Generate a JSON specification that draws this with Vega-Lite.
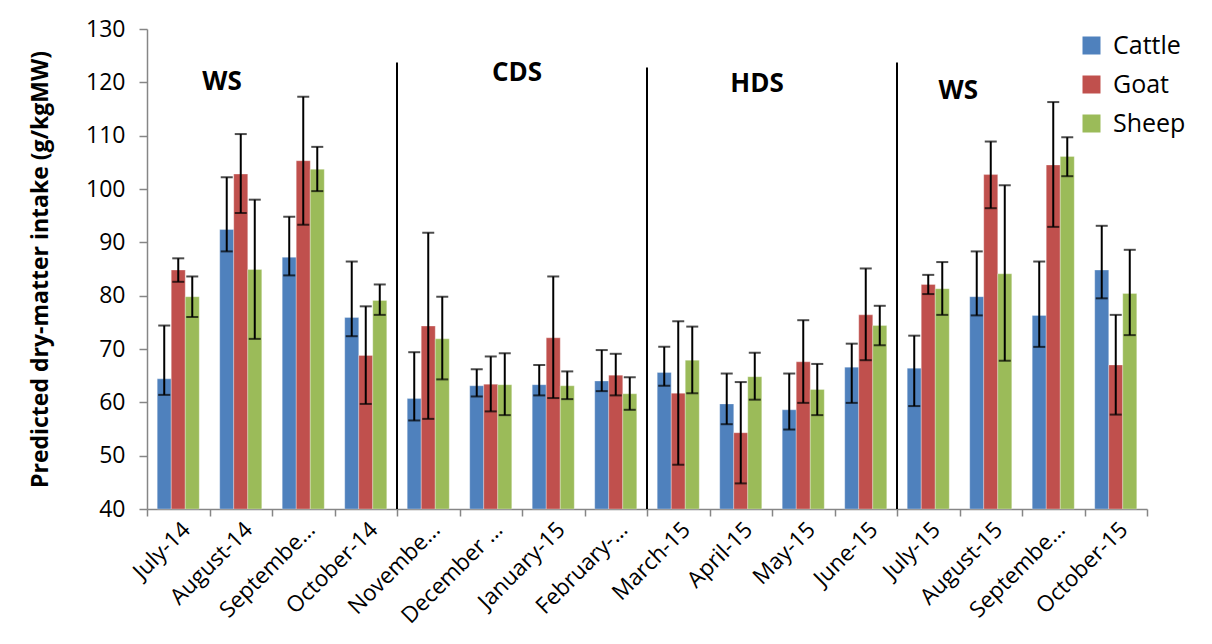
{
  "$schema": "https://vega.github.io/schema/vega-lite/v6.json",
  "width": 1000,
  "height": 480,
  "autosize": {"type": "none"},
  "padding": {"left": 147, "top": 29, "right": 65, "bottom": 135},
  "background": "white",
  "config": {"font": "Open Sans", "view": {"stroke": null}},
  "datasets": {
    "bars": [
      {"month": "July-14", "animal": "Cattle", "value": 64.4, "hi": 74.4, "lo": 61.4},
      {"month": "July-14", "animal": "Goat", "value": 84.8, "hi": 87.0, "lo": 82.6},
      {"month": "July-14", "animal": "Sheep", "value": 79.8, "hi": 83.6, "lo": 76.0},
      {"month": "August-14", "animal": "Cattle", "value": 92.4, "hi": 102.2, "lo": 88.3},
      {"month": "August-14", "animal": "Goat", "value": 102.8, "hi": 110.3, "lo": 95.5},
      {"month": "August-14", "animal": "Sheep", "value": 84.9, "hi": 98.0, "lo": 71.9},
      {"month": "September-14", "animal": "Cattle", "value": 87.2, "hi": 94.8, "lo": 83.8},
      {"month": "September-14", "animal": "Goat", "value": 105.3, "hi": 117.3, "lo": 93.3},
      {"month": "September-14", "animal": "Sheep", "value": 103.7, "hi": 107.9, "lo": 99.6},
      {"month": "October-14", "animal": "Cattle", "value": 75.9, "hi": 86.4, "lo": 72.4},
      {"month": "October-14", "animal": "Goat", "value": 68.8, "hi": 78.0, "lo": 59.7},
      {"month": "October-14", "animal": "Sheep", "value": 79.1, "hi": 82.1, "lo": 76.4},
      {"month": "November-14", "animal": "Cattle", "value": 60.7, "hi": 69.4, "lo": 56.6},
      {"month": "November-14", "animal": "Goat", "value": 74.3, "hi": 91.8, "lo": 56.9},
      {"month": "November-14", "animal": "Sheep", "value": 71.9, "hi": 79.8, "lo": 64.3},
      {"month": "December-14", "animal": "Cattle", "value": 63.1, "hi": 66.2, "lo": 61.1},
      {"month": "December-14", "animal": "Goat", "value": 63.4, "hi": 68.6, "lo": 58.3},
      {"month": "December-14", "animal": "Sheep", "value": 63.3, "hi": 69.2, "lo": 57.6},
      {"month": "January-15", "animal": "Cattle", "value": 63.3, "hi": 67.0, "lo": 61.3},
      {"month": "January-15", "animal": "Goat", "value": 72.1, "hi": 83.6, "lo": 60.8},
      {"month": "January-15", "animal": "Sheep", "value": 63.1, "hi": 65.8, "lo": 60.6},
      {"month": "February-15", "animal": "Cattle", "value": 64.0, "hi": 69.8, "lo": 62.1},
      {"month": "February-15", "animal": "Goat", "value": 65.1, "hi": 69.1, "lo": 61.3},
      {"month": "February-15", "animal": "Sheep", "value": 61.6, "hi": 64.7, "lo": 58.6},
      {"month": "March-15", "animal": "Cattle", "value": 65.6, "hi": 70.4, "lo": 63.1},
      {"month": "March-15", "animal": "Goat", "value": 61.7, "hi": 75.2, "lo": 48.3},
      {"month": "March-15", "animal": "Sheep", "value": 67.9, "hi": 74.2, "lo": 61.7},
      {"month": "April-15", "animal": "Cattle", "value": 59.7, "hi": 65.4, "lo": 55.9},
      {"month": "April-15", "animal": "Goat", "value": 54.3, "hi": 63.8, "lo": 44.8},
      {"month": "April-15", "animal": "Sheep", "value": 64.8, "hi": 69.3, "lo": 60.5},
      {"month": "May-15", "animal": "Cattle", "value": 58.6, "hi": 65.4, "lo": 54.9},
      {"month": "May-15", "animal": "Goat", "value": 67.6, "hi": 75.4, "lo": 59.9},
      {"month": "May-15", "animal": "Sheep", "value": 62.4, "hi": 67.2, "lo": 57.6},
      {"month": "June-15", "animal": "Cattle", "value": 66.6, "hi": 71.0, "lo": 59.9},
      {"month": "June-15", "animal": "Goat", "value": 76.4, "hi": 85.1, "lo": 67.9},
      {"month": "June-15", "animal": "Sheep", "value": 74.4, "hi": 78.1, "lo": 70.7},
      {"month": "July-15", "animal": "Cattle", "value": 66.4, "hi": 72.5, "lo": 59.3},
      {"month": "July-15", "animal": "Goat", "value": 82.1, "hi": 83.9, "lo": 80.3},
      {"month": "July-15", "animal": "Sheep", "value": 81.3, "hi": 86.3, "lo": 76.4},
      {"month": "August-15", "animal": "Cattle", "value": 79.8, "hi": 88.3, "lo": 76.3},
      {"month": "August-15", "animal": "Goat", "value": 102.7, "hi": 108.9, "lo": 96.4},
      {"month": "August-15", "animal": "Sheep", "value": 84.1, "hi": 100.7, "lo": 67.8},
      {"month": "September-15", "animal": "Cattle", "value": 76.3, "hi": 86.4, "lo": 70.4},
      {"month": "September-15", "animal": "Goat", "value": 104.5, "hi": 116.3, "lo": 92.9},
      {"month": "September-15", "animal": "Sheep", "value": 106.1, "hi": 109.7, "lo": 102.4},
      {"month": "October-15", "animal": "Cattle", "value": 84.8, "hi": 93.1, "lo": 79.5},
      {"month": "October-15", "animal": "Goat", "value": 67.0, "hi": 76.4, "lo": 57.7},
      {"month": "October-15", "animal": "Sheep", "value": 80.4, "hi": 88.6, "lo": 72.6}
    ],
    "seps": [
      {"month": "November-14", "top": 123.7},
      {"month": "March-15", "top": 122.8},
      {"month": "July-15", "top": 123.7}
    ],
    "seasons": [
      {"label": "WS", "month": "August-14", "pos": 120.1},
      {"label": "CDS", "month": "December-14", "pos": 121.8},
      {"label": "HDS", "month": "April-15", "pos": 119.6},
      {"label": "WS2", "month": "July-15", "pos": 118.3}
    ]
  },
  "encoding": {
    "x": {
      "field": "month",
      "type": "nominal",
      "scale": {
        "domain": ["July-14", "August-14", "September-14", "October-14", "November-14", "December-14", "January-15", "February-15", "March-15", "April-15", "May-15", "June-15", "July-15", "August-15", "September-15", "October-15"],
        "paddingInner": 0,
        "paddingOuter": 0
      },
      "axis": {
        "title": null,
        "labelAngle": -45,
        "labelFontSize": 22.5,
        "labelColor": "black",
        "labelPadding": 2,
        "tickBand": "extent",
        "tickSize": 7,
        "tickColor": "#868686",
        "tickWidth": 1.5,
        "domainColor": "#868686",
        "domainWidth": 1.5,
        "labelExpr": "(datum.value == 'September-14' || datum.value == 'September-15') ? 'Septembe…' : datum.value == 'November-14' ? 'Novembe…' : datum.value == 'December-14' ? 'December …' : datum.value == 'February-15' ? 'February-…' : datum.value"
      }
    }
  },
  "layer": [
    {
      "data": {"name": "bars"},
      "mark": {"type": "bar", "stroke": "white", "strokeWidth": 0.5, "strokeOpacity": 0.6},
      "encoding": {
        "xOffset": {"field": "animal", "type": "nominal", "scale": {"paddingInner": 0, "paddingOuter": 0.73}},
        "y": {
          "field": "value",
          "type": "quantitative",
          "scale": {"domain": [40, 130], "zero": false, "nice": false},
          "axis": {
            "title": "Predicted dry-matter intake (g/kgMW)",
            "titleFontSize": 23,
            "titleFontWeight": "bold",
            "titleColor": "black",
            "titlePadding": 33,
            "values": [40, 50, 60, 70, 80, 90, 100, 110, 120, 130],
            "grid": false,
            "labelFontSize": 23,
            "labelColor": "black",
            "labelPadding": 14,
            "tickSize": 8,
            "tickColor": "#868686",
            "tickWidth": 1.5,
            "domainColor": "#868686",
            "domainWidth": 1.5
          }
        },
        "y2": {"datum": 40},
        "color": {
          "field": "animal",
          "type": "nominal",
          "scale": {"domain": ["Cattle", "Goat", "Sheep"], "range": ["#4F81BD", "#C0504D", "#9BBB59"]},
          "legend": {
            "title": null,
            "orient": "none",
            "legendX": 932,
            "legendY": 4,
            "symbolType": "square",
            "symbolSize": 324,
            "symbolStrokeWidth": 0,
            "labelFontSize": 25,
            "labelColor": "black",
            "labelOffset": 9,
            "rowPadding": 13
          }
        }
      }
    },
    {
      "data": {"name": "bars"},
      "mark": {"type": "rule", "color": "black", "strokeWidth": 2},
      "encoding": {
        "xOffset": {"field": "animal", "type": "nominal"},
        "y": {"field": "lo", "type": "quantitative"},
        "y2": {"field": "hi"}
      }
    },
    {
      "data": {"name": "bars"},
      "mark": {"type": "tick", "color": "black", "thickness": 2, "size": 12, "orient": "horizontal"},
      "encoding": {
        "xOffset": {"field": "animal", "type": "nominal"},
        "y": {"field": "lo", "type": "quantitative"}
      }
    },
    {
      "data": {"name": "bars"},
      "mark": {"type": "tick", "color": "black", "thickness": 2, "size": 12, "orient": "horizontal"},
      "encoding": {
        "xOffset": {"field": "animal", "type": "nominal"},
        "y": {"field": "hi", "type": "quantitative"}
      }
    },
    {
      "data": {"name": "seps"},
      "mark": {"type": "rule", "color": "black", "strokeWidth": 2},
      "encoding": {
        "x": {"field": "month", "type": "nominal", "bandPosition": 0},
        "y": {"field": "top", "type": "quantitative"},
        "y2": {"datum": 40}
      }
    },
    {
      "data": {"name": "seasons"},
      "transform": [{"filter": "datum.label == 'WS'"}],
      "mark": {"type": "text", "fontSize": 26, "fontWeight": "bold", "color": "black", "baseline": "middle"},
      "encoding": {
        "x": {"field": "month", "type": "nominal", "bandPosition": 0.2},
        "y": {"field": "pos", "type": "quantitative"},
        "text": {"value": "WS"}
      }
    },
    {
      "data": {"name": "seasons"},
      "transform": [{"filter": "datum.label == 'CDS'"}],
      "mark": {"type": "text", "fontSize": 26, "fontWeight": "bold", "color": "black", "baseline": "middle"},
      "encoding": {
        "x": {"field": "month", "type": "nominal", "bandPosition": 0.92},
        "y": {"field": "pos", "type": "quantitative"},
        "text": {"value": "CDS"}
      }
    },
    {
      "data": {"name": "seasons"},
      "transform": [{"filter": "datum.label == 'HDS'"}],
      "mark": {"type": "text", "fontSize": 26, "fontWeight": "bold", "color": "black", "baseline": "middle"},
      "encoding": {
        "x": {"field": "month", "type": "nominal", "bandPosition": 0.76},
        "y": {"field": "pos", "type": "quantitative"},
        "text": {"value": "HDS"}
      }
    },
    {
      "data": {"name": "seasons"},
      "transform": [{"filter": "datum.label == 'WS2'"}],
      "mark": {"type": "text", "fontSize": 26, "fontWeight": "bold", "color": "black", "baseline": "middle"},
      "encoding": {
        "x": {"field": "month", "type": "nominal", "bandPosition": 0.98},
        "y": {"field": "pos", "type": "quantitative"},
        "text": {"value": "WS"}
      }
    }
  ]
}
